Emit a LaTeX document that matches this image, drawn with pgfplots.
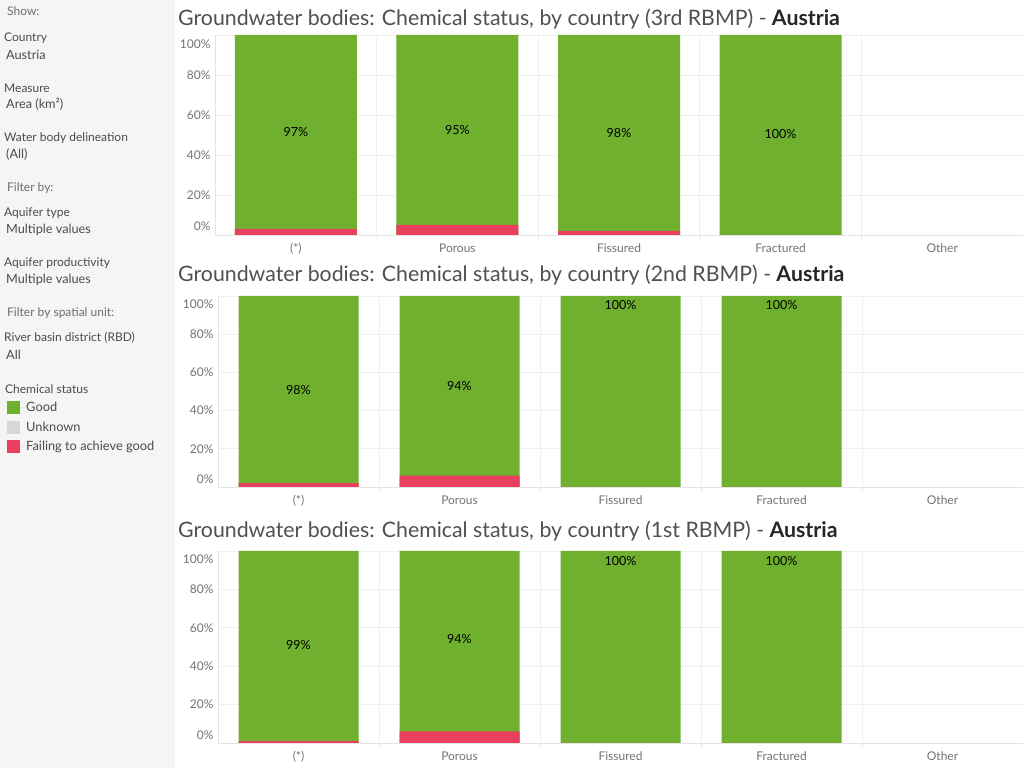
\documentclass[border=0pt]{standalone}
\usepackage{pgfplots}
\usepackage{pgfplotstable}
\pgfplotsset{compat=1.18}
\usepackage{fontspec}
\setmainfont{Lato}

\definecolor{good}{RGB}{111,177,46}
\definecolor{fail}{RGB}{232,64,94}
\definecolor{unknown}{RGB}{215,215,215}
\definecolor{panel}{RGB}{245,245,245}
\definecolor{gridc}{RGB}{240,240,240}
\definecolor{axisc}{RGB}{228,228,228}
\definecolor{ticktext}{RGB}{115,115,115}
\definecolor{titletext}{RGB}{80,80,80}
\definecolor{sidetext}{RGB}{75,75,75}
\definecolor{sidehead}{RGB}{110,110,110}

% Share of groundwater body area (%) by aquifer type: failing, good, label height
\pgfplotstableread{
x fail good ly
0 3 97 51.5
1 5 95 52.5
2 2 98 51
3 0 100 50.5
}\rbmpthird
\pgfplotstableread{
x fail good ly
0 2 98 51
1 6 94 53
2 0 100 95.3
3 0 100 95.3
}\rbmpsecond
\pgfplotstableread{
x fail good ly
0 1 99 51
1 6 94 54
2 0 100 95
3 0 100 95
}\rbmpfirst

\pgfplotsset{
  rbmp/.style={
    scale only axis,
    xmin=-0.5, xmax=4.5, ymin=0, ymax=100,
    axis lines*=left,
    axis line style={axisc},
    xtick={0,...,4},
    xticklabels={(*),Porous,Fissured,Fractured,Other},
    minor xtick={0.5,1.5,2.5,3.5},
    xminorgrids=true,
    minor x grid style={gridc, line width=0.8bp},
    ytick={0,20,...,100},
    yticklabels={,20\%,40\%,60\%,80\%,},
    extra y ticks={4.3,95.5},
    extra y tick labels={0\%,100\%},
    extra y tick style={grid=none, major tick length=0pt},
    ymajorgrids=true,
    major grid style={gridc, line width=0.8bp},
    major tick length=0pt,
    minor tick length=4bp,
    tick align=outside,
    tick style={axisc},
    ticklabel style={font=\fontsize{12bp}{14bp}\selectfont, text=ticktext},
    xticklabel style={yshift=-5bp},
    yticklabel style={xshift=-1bp},
    /pgf/number format/assume math mode=true,
  },
  % the green bar spans the whole aquifer type (failing + good),
  % the red failing share is laid over its foot
  goodbar/.style={ybar, bar shift=0pt, fill=good, draw=none, forget plot},
  failbar/.style={ybar, bar shift=0pt, fill=fail, draw=none, forget plot},
  valuelabels/.style={sharp plot, draw=none, mark=none,
    forget plot, point meta=explicit,
    nodes near coords={\pgfmathprintnumber{\pgfplotspointmeta}\%},
    every node near coord/.append style={anchor=center,
      font=\fontsize{12.5bp}{14bp}\selectfont, text=black}},
}

\newcommand{\charttitle}[1]{{\fontsize{21.3bp}{25bp}\selectfont\color{titletext}Groundwater bodies: Chemical status, by country (#1) - {\color{black!85}\bfseries Austria}}}

\begin{document}
\begin{tikzpicture}[x=1bp,y=1bp]
  % page frame and filter panel
  \path[use as bounding box, fill=white] (0,0) rectangle (1024,768);
  \fill[panel] (0,0) rectangle (175,768);

  \begin{scope}[every node/.style={anchor=west, inner sep=0pt}]
    \node[text=sidehead, font=\fontsize{12bp}{14bp}\selectfont] at (7,757) {Show:};
    \node[text=sidetext, font=\fontsize{12bp}{14bp}\selectfont] at (4,730) {Country};
    \node[text=sidetext, font=\fontsize{12.7bp}{15bp}\selectfont] at (6,713) {Austria};
    \node[text=sidetext, font=\fontsize{12bp}{14bp}\selectfont] at (4,680) {Measure};
    \node[text=sidetext, font=\fontsize{12.7bp}{15bp}\selectfont] at (6,664) {Area (km²)};
    \node[text=sidetext, font=\fontsize{12bp}{14bp}\selectfont] at (4,630) {Water body delineation};
    \node[text=sidetext, font=\fontsize{12.7bp}{15bp}\selectfont] at (6,613) {(All)};
    \node[text=sidehead, font=\fontsize{12bp}{14bp}\selectfont] at (7,580) {Filter by:};
    \node[text=sidetext, font=\fontsize{12bp}{14bp}\selectfont] at (4,555) {Aquifer type};
    \node[text=sidetext, font=\fontsize{12.7bp}{15bp}\selectfont] at (6,538) {Multiple values};
    \node[text=sidetext, font=\fontsize{12bp}{14bp}\selectfont] at (4,505) {Aquifer productivity};
    \node[text=sidetext, font=\fontsize{12.7bp}{15bp}\selectfont] at (6,488) {Multiple values};
    \node[text=sidehead, font=\fontsize{12bp}{14bp}\selectfont] at (7,455) {Filter by spatial unit:};
    \node[text=sidetext, font=\fontsize{12bp}{14bp}\selectfont] at (4,430) {River basin district (RBD)};
    \node[text=sidetext, font=\fontsize{12.7bp}{15bp}\selectfont] at (6,413) {All};
    \node[text=sidetext, font=\fontsize{12bp}{14bp}\selectfont] at (5,379) {Chemical status};
  \end{scope}

  % 3rd RBMP
  \node[anchor=west, inner sep=0pt] at (178,749) {\charttitle{3rd RBMP}};
  \begin{axis}[rbmp, at={(215bp,533bp)}, anchor=south west,
      width=808bp, height=200bp, bar width=122bp,
      legend style={at={(-0.2611,-0.82)}, anchor=north west, draw=none, fill=none,
        font=\fontsize{12.8bp}{15bp}\selectfont, text=sidetext,
        cells={anchor=west}, row sep=6.5bp,
        nodes={inner sep=1bp}},
      legend image code/.code={\fill[#1] (0bp,-6.5bp) rectangle (13bp,6.5bp);
        \path (13bp,0bp) -- (18bp,0bp);}]
    \addplot[goodbar] table[x=x, y expr=\thisrow{fail}+\thisrow{good}] {\rbmpthird};
    \addplot[failbar] table[x=x, y=fail] {\rbmpthird};
    \addplot[valuelabels] table[x=x, y=ly, meta=good] {\rbmpthird};
    \addlegendimage{fill=good, draw=none}
    \addlegendentry{Good}
    \addlegendimage{fill=unknown, draw=none}
    \addlegendentry{Unknown}
    \addlegendimage{fill=fail, draw=none}
    \addlegendentry{Failing to achieve good}
  \end{axis}

  % 2nd RBMP
  \node[anchor=west, inner sep=0pt] at (178,493) {\charttitle{2nd RBMP}};
  \begin{axis}[rbmp, at={(218bp,281bp)}, anchor=south west,
      width=805bp, height=191bp, bar width=120bp]
    \addplot[goodbar] table[x=x, y expr=\thisrow{fail}+\thisrow{good}] {\rbmpsecond};
    \addplot[failbar] table[x=x, y=fail] {\rbmpsecond};
    \addplot[valuelabels] table[x=x, y=ly, meta=good] {\rbmpsecond};
  \end{axis}

  % 1st RBMP
  \node[anchor=west, inner sep=0pt] at (178,237) {\charttitle{1st RBMP}};
  \begin{axis}[rbmp, at={(218bp,25bp)}, anchor=south west,
      width=805bp, height=192bp, bar width=120bp]
    \addplot[goodbar] table[x=x, y expr=\thisrow{fail}+\thisrow{good}] {\rbmpfirst};
    \addplot[failbar] table[x=x, y=fail] {\rbmpfirst};
    \addplot[valuelabels] table[x=x, y=ly, meta=good] {\rbmpfirst};
  \end{axis}
\end{tikzpicture}
\end{document}
